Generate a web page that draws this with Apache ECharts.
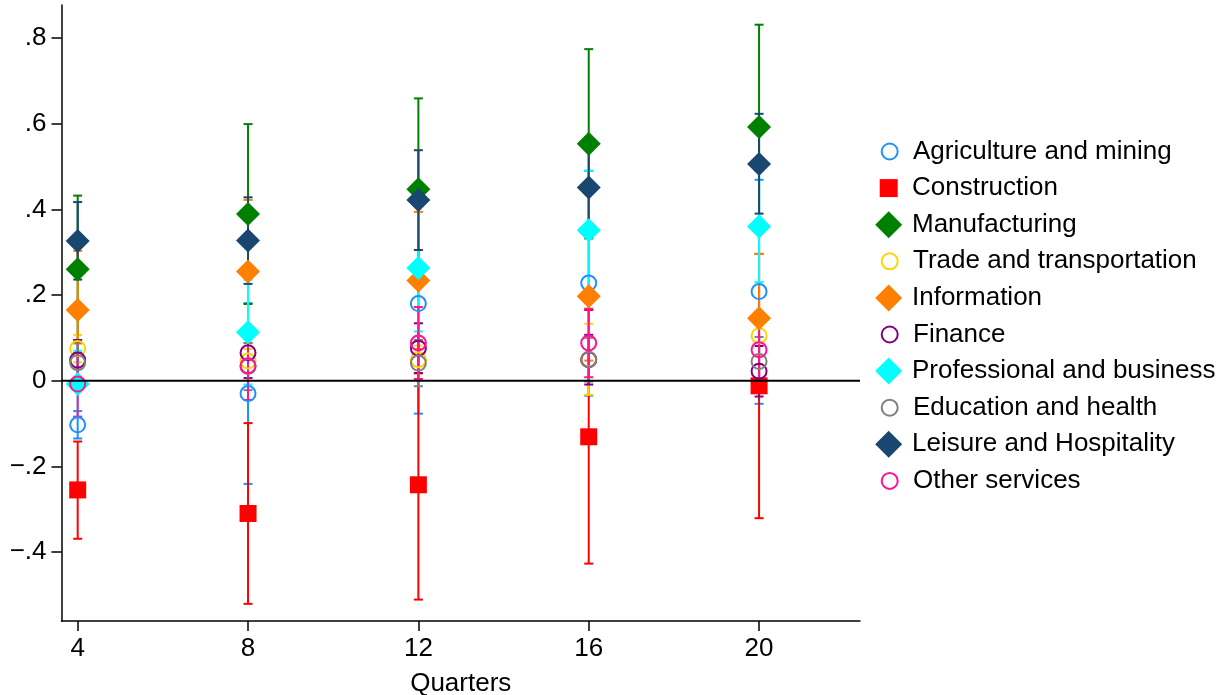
<!DOCTYPE html>
<html>
<head>
<meta charset="utf-8">
<script src="https://cdn.jsdelivr.net/npm/echarts@6/dist/echarts.min.js"></script>
<style>
  html, body { margin: 0; padding: 0; background: #fff; }
  #chart { width: 1226px; height: 695px; }
</style>
</head>
<body>
<div id="chart"></div>
<script>
// Horizon (in quarters) of each estimate
const quarters = [4, 8, 12, 16, 20];
const yTicks = [-0.4, -0.2, 0, 0.2, 0.4, 0.6, 0.8];

// Per industry: [estimate, lower bound, upper bound] for each horizon
const agriculture   = [[-0.103, -0.135, -0.071], [-0.030, -0.241, 0.181], [0.180, -0.077, 0.437], [0.228, -0.035, 0.490], [0.208, -0.054, 0.469]];
const construction  = [[-0.255, -0.369, -0.142], [-0.310, -0.521, -0.099], [-0.243, -0.511, 0.017], [-0.131, -0.427, 0.165], [-0.012, -0.321, 0.296]];
const manufacturing = [[0.260, 0.088, 0.432], [0.389, 0.179, 0.599], [0.447, 0.235, 0.659], [0.553, 0.332, 0.774], [0.592, 0.353, 0.831]];
const trade         = [[0.075, 0.043, 0.107], [0.046, 0.018, 0.074], [0.049, 0.016, 0.082], [0.050, -0.033, 0.133], [0.105, 0.058, 0.152]];
const information   = [[0.165, 0.027, 0.303], [0.255, 0.088, 0.422], [0.234, 0.074, 0.394], [0.197, 0.047, 0.347], [0.146, -0.004, 0.296]];
const finance       = [[0.048, 0.000, 0.095], [0.065, 0.006, 0.124], [0.076, 0.018, 0.134], [0.049, -0.009, 0.107], [0.022, -0.037, 0.081]];
const professional  = [[-0.008, -0.085, 0.070], [0.113, -0.009, 0.236], [0.263, 0.115, 0.411], [0.351, 0.210, 0.490], [0.360, 0.230, 0.490]];
const education     = [[0.042, -0.003, 0.087], [0.033, -0.022, 0.088], [0.041, -0.013, 0.095], [0.049, -0.002, 0.100], [0.045, -0.012, 0.102]];
const leisure       = [[0.326, 0.236, 0.417], [0.327, 0.226, 0.428], [0.422, 0.305, 0.538], [0.451, 0.338, 0.562], [0.506, 0.390, 0.623]];
const otherServices = [[-0.008, -0.084, 0.065], [0.035, -0.045, 0.113], [0.088, 0.004, 0.172], [0.088, 0.008, 0.168], [0.072, -0.007, 0.154]];

const industryNames = [
  'Agriculture and mining', 'Construction', 'Manufacturing', 'Trade and transportation',
  'Information', 'Finance', 'Professional and business', 'Education and health',
  'Leisure and Hospitality', 'Other services'
];
const industryValues = [agriculture, construction, manufacturing, trade, information,
  finance, professional, education, leisure, otherServices];
const industryColors = ['#1e90ff', '#ff0000', '#008000', '#ffd400', '#ff7f00',
  '#800080', '#00ffff', '#808080', '#1a476f', '#ff1493'];
const industryMarkers = ['circle', 'rect', 'diamond', 'circle', 'diamond',
  'circle', 'diamond', 'circle', 'diamond', 'circle'];

const FONT = '"Liberation Sans", Arial, Helvetica, sans-serif';
const X_MIN = 3.62, X_MAX = 22.37;
const Y_MIN = -0.561, Y_MAX = 0.877;

function markerStyle(kind, color) {
  if (kind === 'circle') {
    return { size: 15, itemStyle: { color: 'rgba(0,0,0,0)', borderColor: color, borderWidth: 2, opacity: 1 } };
  }
  if (kind === 'rect') {
    return { size: 17, itemStyle: { color: color, opacity: 1 } };
  }
  return { size: 24, itemStyle: { color: color, opacity: 1 } };
}

// Vertical confidence interval with small caps at both ends
function capRenderer(color) {
  return function (params, api) {
    const x = api.value(0);
    const lo = api.coord([x, api.value(1)]);
    const hi = api.coord([x, api.value(2)]);
    const half = 4.5;
    const style = { stroke: color, lineWidth: 2, fill: null };
    return {
      type: 'group',
      children: [
        { type: 'line', shape: { x1: lo[0], y1: lo[1], x2: hi[0], y2: hi[1] }, style: style },
        { type: 'line', shape: { x1: lo[0] - half, y1: lo[1], x2: lo[0] + half, y2: lo[1] }, style: style },
        { type: 'line', shape: { x1: hi[0] - half, y1: hi[1], x2: hi[0] + half, y2: hi[1] }, style: style }
      ]
    };
  };
}

const series = [{
  // zero reference line
  type: 'line',
  silent: true,
  symbol: 'none',
  data: [[X_MIN, 0], [X_MAX, 0]],
  lineStyle: { color: '#000', width: 2 },
  animation: false
}];

industryNames.forEach(function (name, i) {
  const vals = industryValues[i];
  const color = industryColors[i];
  const m = markerStyle(industryMarkers[i], color);
  series.push({
    name: name + ' interval',
    type: 'custom',
    renderItem: capRenderer(color),
    data: quarters.map(function (q, k) { return [q, vals[k][1], vals[k][2]]; }),
    encode: { x: 0, y: [1, 2] },
    animation: false,
    silent: true
  });
  series.push({
    name: name,
    type: 'scatter',
    symbol: industryMarkers[i],
    symbolSize: m.size,
    itemStyle: m.itemStyle,
    emphasis: { disabled: true },
    data: quarters.map(function (q, k) { return [q, vals[k][0]]; }),
    animation: false
  });
});

// One legend block per industry so every key keeps its own marker size
const ICON_CENTER_X = 888.7, TEXT_X = 912, ROW0 = 151.5, ROW_STEP = 36.6;
const legends = industryNames.map(function (name, i) {
  const kind = industryMarkers[i];
  const color = industryColors[i];
  const w = kind === 'circle' ? 16 : (kind === 'rect' ? 18 : 27);
  const left = ICON_CENTER_X - w / 2;
  const pad = TEXT_X - (left + w + 5);
  const m = markerStyle(kind, color);
  return {
    orient: 'vertical',
    left: left,
    top: ROW0 + i * ROW_STEP - 15,
    padding: 0,
    itemWidth: w,
    itemHeight: w,
    selectedMode: false,
    data: [{ name: name, icon: kind, itemStyle: m.itemStyle }],
    textStyle: { fontFamily: FONT, fontSize: 26, color: '#000', lineHeight: 30, padding: [0, 0, 0, pad] }
  };
});

const chart = echarts.init(document.getElementById('chart'), null, { renderer: 'canvas' });
chart.setOption({
  backgroundColor: '#fff',
  animation: false,
  legend: legends,
  grid: { left: 61.5, top: 5, width: 798.5, height: 616, containLabel: false, outerBoundsMode: 'none' },
  xAxis: {
    type: 'value',
    min: X_MIN,
    max: X_MAX,
    name: 'Quarters',
    nameLocation: 'middle',
    nameGap: 50,
    nameTextStyle: { fontFamily: FONT, fontSize: 26, color: '#000' },
    axisLine: { show: true, onZero: false, lineStyle: { color: '#000', width: 1.5 } },
    axisTick: { show: true, customValues: quarters, length: 10, lineStyle: { color: '#000', width: 1.5 } },
    axisLabel: { customValues: quarters, margin: 15, fontFamily: FONT, fontSize: 26, color: '#000' },
    splitLine: { show: false }
  },
  yAxis: {
    type: 'value',
    min: Y_MIN,
    max: Y_MAX,
    axisLine: { show: true, onZero: false, lineStyle: { color: '#000', width: 1.5 } },
    axisTick: { show: true, customValues: yTicks, length: 10, lineStyle: { color: '#000', width: 1.5 } },
    axisLabel: {
      customValues: yTicks,
      margin: 15,
      fontFamily: FONT,
      fontSize: 26,
      color: '#000',
      formatter: function (v) {
        if (Math.abs(v) < 1e-9) return '0';
        const s = Math.abs(v).toFixed(1).replace(/^0/, '');
        return (v < 0 ? '\u2212' : '') + s;
      }
    },
    splitLine: { show: false }
  },
  series: series
});
</script>
</body>
</html>
